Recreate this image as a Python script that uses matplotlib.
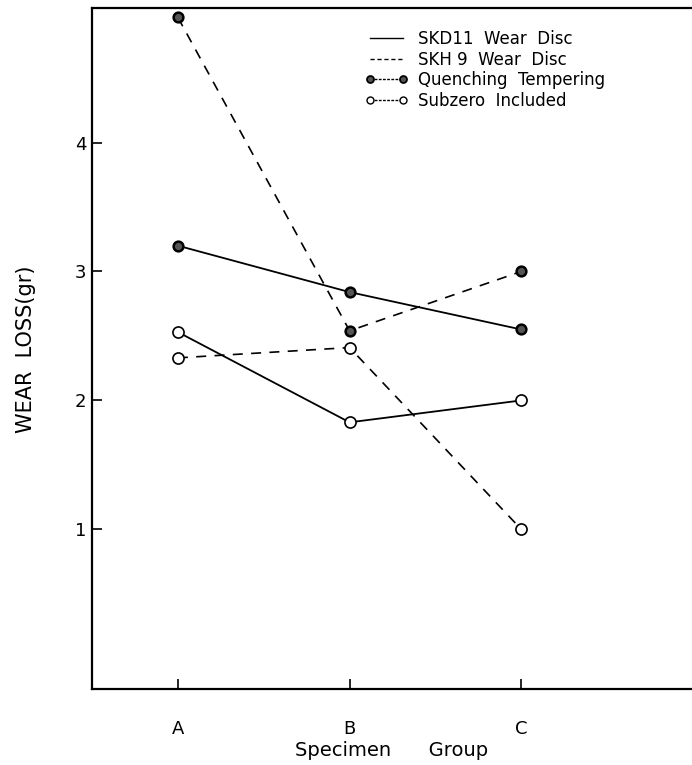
import matplotlib.pyplot as plt
from matplotlib.lines import Line2D

groups = ['A', 'B', 'C']
skd11_qt = [3.20, 2.84, 2.55]
skd11_sz = [2.53, 1.83, 2.00]
skh9_qt = [4.97, 2.54, 3.00]
skh9_sz = [2.33, 2.41, 1.00]

legend_labels = ['SKD11  Wear  Disc', 'SKH 9  Wear  Disc',
                 'Quenching  Tempering', 'Subzero  Included']

fig = plt.figure(figsize=(6.92, 7.65), dpi=100)
ax = fig.add_axes([0.133, 0.099, 0.866, 0.89])

x = range(len(groups))
qt_style = dict(marker='o', markersize=7, markerfacecolor='#555555',
                markeredgecolor='black', markeredgewidth=1.8)
sz_style = dict(marker='o', markersize=8, markerfacecolor='white',
                markeredgecolor='black', markeredgewidth=1.2)

ax.plot(x, skd11_qt, '-', color='black', lw=1.3, **qt_style)
ax.plot(x, skd11_sz, '-', color='black', lw=1.3, **sz_style)
ax.plot(x, skh9_qt, '--', color='black', lw=1.2, dashes=(6, 5), **qt_style)
ax.plot(x, skh9_sz, '--', color='black', lw=1.2, dashes=(6, 5), **sz_style)

ax.set_xlim(-0.5, 2.99)
ax.set_ylim(-0.24, 5.04)
ax.set_xticks(list(x))
ax.set_xticklabels(groups)
ax.set_yticks([1, 2, 3, 4])
ax.tick_params(direction='in', length=7, width=1.2, labelsize=13, pad=4)
ax.tick_params(axis='x', pad=22)
ax.spines['right'].set_visible(False)
for s in ['left', 'bottom', 'top']:
    ax.spines[s].set_linewidth(1.6)

ax.set_ylabel('WEAR  LOSS(gr)', fontsize=15, labelpad=28)
ax.set_xlabel('Specimen      Group', fontsize=14, labelpad=2)

handles = [
    Line2D([], [], color='black', lw=1.0),
    Line2D([], [], color='black', lw=1.0, ls='--', dashes=(3, 2)),
    Line2D([], [], color='black', lw=1.0, ls='--', dashes=(2, 1), marker='o',
           markersize=5, markerfacecolor='#555555', markeredgecolor='black',
           markeredgewidth=1.3),
    Line2D([], [], color='black', lw=1.0, ls='--', dashes=(2, 1), marker='o',
           markersize=5, markerfacecolor='white', markeredgecolor='black'),
]
leg = ax.legend(handles, legend_labels, loc='upper left',
                bbox_to_anchor=(0.43, 0.99), frameon=False, fontsize=12,
                numpoints=2, handlelength=2.6, handletextpad=0.6,
                labelspacing=0.15)

fig.savefig('out.png', dpi=100)
